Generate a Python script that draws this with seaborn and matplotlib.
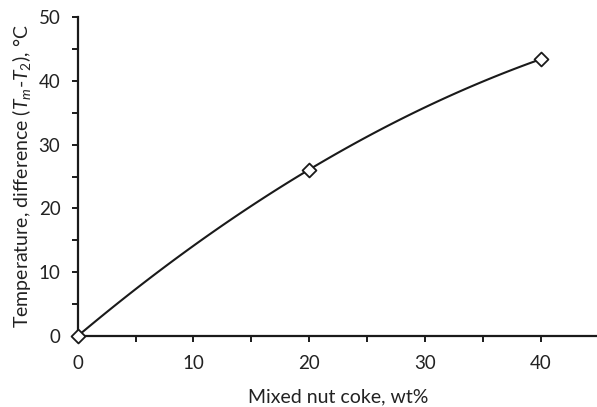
import matplotlib
matplotlib.use("Agg")
import matplotlib.pyplot as plt
import seaborn as sns
import pandas as pd
from matplotlib.ticker import MultipleLocator

# data
coke_wt = [0, 20, 40]
temp_diff = [0.0, 26.1, 43.4]

df = pd.DataFrame({"coke": coke_wt, "dT": temp_diff})

sns.set_style("ticks")
plt.rcParams["font.family"] = ["Lato", "DejaVu Sans"]
plt.rcParams["mathtext.fontset"] = "custom"
plt.rcParams["mathtext.it"] = "Lato:italic"
plt.rcParams["mathtext.rm"] = "Lato"

fig = plt.figure(figsize=(5.97, 4.07), dpi=100)
# x=45 falls just past the right edge of the canvas, as in the reference
ax = fig.add_axes([0.1302, 0.1744, 0.8725, 0.7836])

# polynomial trendline (order 2) through the points
sns.regplot(data=df, x="coke", y="dT", order=2, ci=None, scatter=False,
            truncate=True, line_kws={"color": "#1a1a1a", "lw": 1.5}, ax=ax)
sns.scatterplot(data=df, x="coke", y="dT", marker="D", s=50,
                facecolor="white", edgecolor="#1a1a1a", linewidth=1.3,
                zorder=5, clip_on=False, ax=ax)

ax.set_xlim(0, 45)
ax.set_ylim(0, 50)
ax.xaxis.set_major_locator(MultipleLocator(10))
ax.xaxis.set_minor_locator(MultipleLocator(5))
ax.yaxis.set_major_locator(MultipleLocator(10))
ax.yaxis.set_minor_locator(MultipleLocator(5))
ax.tick_params(which="both", direction="out", length=4.5, width=1.4,
               color="#1a1a1a", labelsize=13.5, labelcolor="#222222")
ax.tick_params(axis="x", pad=9)
ax.tick_params(axis="y", pad=8)

sns.despine(ax=ax)
for s in ["left", "bottom"]:
    ax.spines[s].set_linewidth(1.6)
    ax.spines[s].set_color("#1a1a1a")

ax.set_xlabel("Mixed nut coke, wt%", fontsize=14, color="#222222", labelpad=12)
ax.set_ylabel("Temperature, difference ($T_m$-$T_2$), °C", fontsize=14,
              color="#222222", labelpad=4)

fig.savefig("out.png", dpi=100)
